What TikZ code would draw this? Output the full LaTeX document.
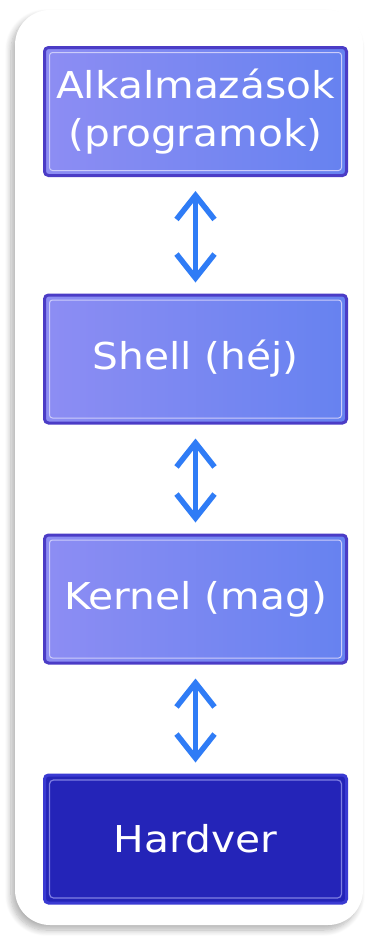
\documentclass[tikz,border=0pt]{standalone}
\usepackage{fontspec}
\newfontfamily\layerfont[FakeStretch=1.1]{DejaVu Sans}
\usetikzlibrary{arrows.meta, shadows.blur}

\definecolor{layerleft}{HTML}{8D8DF3}
\definecolor{layerright}{HTML}{6682F0}
\definecolor{layerframe}{HTML}{4B3CC6}
\definecolor{hwfill}{HTML}{2424B8}
\definecolor{hwframe}{HTML}{3A3AD2}
\definecolor{linkblue}{HTML}{2F7CF6}

\tikzset{
  layer/.style={draw=layerframe, line width=3pt, rounded corners=4pt,
    left color=layerleft, right color=layerright, text=white,
    minimum width=302pt, minimum height=128pt, align=center,
    font=\layerfont\fontsize{37}{48}\selectfont,
    path picture={\draw[white!55!layerleft, line width=1pt, rounded corners=3pt]
      ([shift={(5pt,-5pt)}]path picture bounding box.north west) rectangle
      ([shift={(-5pt,5pt)}]path picture bounding box.south east);}},
  hardware/.style={layer, left color=hwfill, right color=hwfill, draw=hwframe,
    path picture={\draw[white!35!hwframe, line width=1.2pt]
      ([shift={(5pt,-5pt)}]path picture bounding box.north west) rectangle
      ([shift={(-5pt,5pt)}]path picture bounding box.south east);}},
  link/.style={{Straight Barb[length=24pt,width=38pt]}-{Straight Barb[length=24pt,width=38pt]},
    draw=linkblue, line width=5.5pt, shorten <=14pt, shorten >=11pt}
}

\begin{document}
\begin{tikzpicture}[x=1pt,y=-1pt]

        \useasboundingbox (0,0) rectangle (370,937);

        % white card behind the layers
        \fill[white, rounded corners=35pt,
          blur shadow={shadow xshift=-4pt, shadow yshift=-5pt, shadow blur radius=6pt,
            shadow blur steps=10, shadow opacity=30}]
          (15,10) rectangle (363,925);

        \node[layer] (Apps) at (195.5,111.5) {Alkalmazások\\(programok)};
        \node[layer] (Shell) at (195.5,359) {Shell (héj)};
        \node[layer] (Kernel) at (195.5,599) {Kernel (mag)};
        \node[hardware] (Hardware) at (195.5,839) {Hardver};

        \draw[link] (Apps) -- (Shell);
        \draw[link] (Shell) -- (Kernel);
        \draw[link] (Kernel) -- (Hardware);

      \end{tikzpicture}
\end{document}
